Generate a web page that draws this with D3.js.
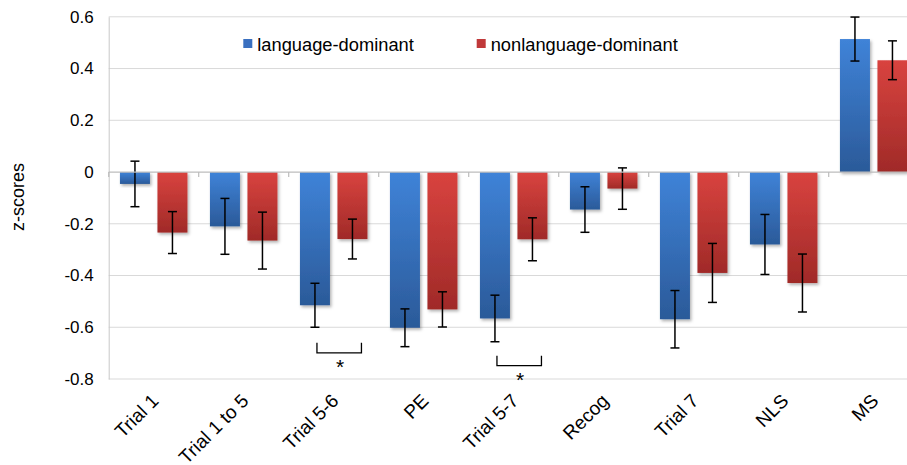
<!DOCTYPE html>
<html>
<head>
<meta charset="utf-8">
<script src="https://cdn.jsdelivr.net/npm/d3@7"></script>
<style>
  html, body { margin: 0; padding: 0; background: #fff; }
  svg { display: block; font-family: "Liberation Sans", Arial, sans-serif; }
</style>
</head>
<body>
<svg id="chart" width="907" height="465"></svg>
<script>
const categories = ["Trial 1", "Trial 1 to 5", "Trial 5-6", "PE", "Trial 5-7", "Recog", "Trial 7", "NLS", "MS"];
const series = ["language-dominant", "nonlanguage-dominant"];
const langValues = [-0.046, -0.21, -0.515, -0.602, -0.566, -0.145, -0.569, -0.28, 0.514];
const langErrors = [0.088, 0.108, 0.085, 0.073, 0.09, 0.088, 0.111, 0.116, 0.085];
const nonlangValues = [-0.234, -0.265, -0.259, -0.531, -0.26, -0.064, -0.39, -0.429, 0.432];
const nonlangErrors = [0.081, 0.11, 0.077, 0.068, 0.083, 0.08, 0.114, 0.112, 0.075];
const yTicks = [0.6, 0.4, 0.2, 0, -0.2, -0.4, -0.6, -0.8];
const significance = ["Trial 5-6", "Trial 5-7"];

(function () {
const svg = d3.select("#chart");
const W = 907;
const plotLeft = 108.7, plotTop = 16.8, plotBottom = 379;
const band = 90;

const x = d3.scaleBand().domain(categories).range([plotLeft, plotLeft + band * categories.length]).paddingInner(0).paddingOuter(0);
const x1 = d3.scaleBand().domain(series).range([0, x.bandwidth()]).paddingInner(0.2).paddingOuter(0.3);
const y = d3.scaleLinear().domain([-0.8, 0.6]).range([plotBottom, plotTop]);

const colors = {
  "language-dominant": { top: "#3f83d8", bottom: "#2b5a99", legend: "#3a70c0" },
  "nonlanguage-dominant": { top: "#d9433f", bottom: "#a02a28", legend: "#c0393a" }
};

const defs = svg.append("defs");
series.forEach((s, i) => {
  const g = defs.append("linearGradient").attr("id", "grad" + i)
    .attr("x1", 0).attr("y1", 0).attr("x2", 0).attr("y2", 1);
  g.append("stop").attr("offset", "0%").attr("stop-color", colors[s].top);
  g.append("stop").attr("offset", "100%").attr("stop-color", colors[s].bottom);
});
const f = defs.append("filter").attr("id", "shadow").attr("x", "-20%").attr("y", "-20%").attr("width", "150%").attr("height", "150%");
f.append("feDropShadow").attr("dx", 1.5).attr("dy", 2).attr("stdDeviation", 1.5).attr("flood-color", "#000").attr("flood-opacity", 0.3);

// gridlines
svg.append("g").selectAll("line").data(yTicks.filter(d => d !== 0)).join("line")
  .attr("x1", plotLeft).attr("x2", W)
  .attr("y1", d => y(d)).attr("y2", d => y(d))
  .attr("stroke", "#d9d9d9").attr("stroke-width", 1);

// y axis
const yAxis = d3.axisLeft(y).tickValues(yTicks).tickSize(0).tickPadding(15)
  .tickFormat(d => d === 0 ? "0" : d3.format(".1f")(d).replace("\u2212", "-"));
const yg = svg.append("g").attr("transform", `translate(${plotLeft},0)`).call(yAxis);
yg.select(".domain").attr("stroke", "#c8c8c8");
yg.selectAll("text").attr("font-size", 17).attr("fill", "#000").attr("font-family", "Liberation Sans, Arial, sans-serif");

svg.append("text").attr("transform", `translate(24,197) rotate(-90)`)
  .attr("text-anchor", "middle").attr("font-size", 18).attr("fill", "#000").text("z-scores");

// data rows
const rows = categories.map((c, i) => ({
  cat: c,
  vals: [
    { s: series[0], v: langValues[i], e: langErrors[i], gi: 0 },
    { s: series[1], v: nonlangValues[i], e: nonlangErrors[i], gi: 1 }
  ]
}));

const groups = svg.append("g").selectAll("g").data(rows).join("g")
  .attr("transform", d => `translate(${x(d.cat)},0)`);

groups.selectAll("rect").data(d => d.vals).join("rect")
  .attr("x", d => x1(d.s)).attr("width", x1.bandwidth())
  .attr("y", d => y(Math.max(0, d.v)))
  .attr("height", d => Math.abs(y(d.v) - y(0)))
  .attr("fill", d => `url(#grad${d.gi})`)
  .attr("filter", "url(#shadow)");

// zero axis line with boundary ticks
svg.append("line").attr("x1", plotLeft).attr("x2", W).attr("y1", y(0)).attr("y2", y(0))
  .attr("stroke", "#bdbdbd").attr("stroke-width", 1.2);
svg.append("g").selectAll("line").data(categories).join("line")
  .attr("x1", d => x(d)).attr("x2", d => x(d))
  .attr("y1", y(0)).attr("y2", y(0) + 5)
  .attr("stroke", "#bdbdbd").attr("stroke-width", 1.2);

// error bars
const eb = groups.selectAll("g.err").data(d => d.vals).join("g").attr("class", "err")
  .attr("transform", d => `translate(${x1(d.s) + x1.bandwidth() / 2},0)`);
eb.append("line").attr("x1", 0).attr("x2", 0)
  .attr("y1", d => y(d.v + d.e)).attr("y2", d => y(d.v - d.e))
  .attr("stroke", "#000").attr("stroke-width", 1.5);
eb.append("line").attr("x1", -4.5).attr("x2", 4.5)
  .attr("y1", d => y(d.v + d.e)).attr("y2", d => y(d.v + d.e))
  .attr("stroke", "#000").attr("stroke-width", 1.5);
eb.append("line").attr("x1", -4.5).attr("x2", 4.5)
  .attr("y1", d => y(d.v - d.e)).attr("y2", d => y(d.v - d.e))
  .attr("stroke", "#000").attr("stroke-width", 1.5);

// significance brackets
const sigLevels = [-0.66, -0.71];
significance.forEach((c, i) => {
  const xa = x(c) + x1(series[0]) + x1.bandwidth() / 2 + 2;
  const xb = x(c) + x1(series[1]) + x1.bandwidth() / 2 + 9;
  const yTop = y(sigLevels[i]), yBot = yTop + 10;
  svg.append("path")
    .attr("d", `M${xa},${yTop}V${yBot}H${xb}V${yTop}`)
    .attr("fill", "none").attr("stroke", "#000").attr("stroke-width", 1.3);
  svg.append("text").attr("x", (xa + xb) / 2 + 1).attr("y", yBot + 21)
    .attr("text-anchor", "middle").attr("font-size", 21).attr("fill", "#000").text("*");
});

// x labels
svg.append("g").selectAll("text").data(categories).join("text")
  .attr("transform", d => `translate(${x(d) + x.bandwidth() / 2 + 6},402) rotate(-45)`)
  .attr("text-anchor", "end").attr("font-size", 19).attr("fill", "#000").text(d => d);

// legend
const legendX = [243.3, 476.7];
const lg = svg.append("g").selectAll("g").data(series).join("g")
  .attr("transform", (d, i) => `translate(${legendX[i]},39)`);
lg.append("rect").attr("width", 9).attr("height", 9).attr("fill", d => colors[d].legend);
lg.append("text").attr("x", 14).attr("y", 11.5).attr("font-size", 18.3).attr("fill", "#000").text(d => d);
})();
</script>
</body>
</html>
